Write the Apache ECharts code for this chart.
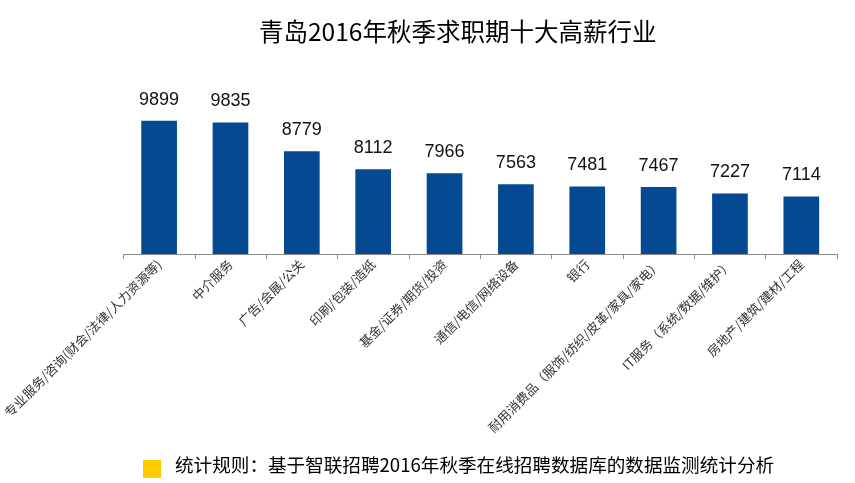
<!DOCTYPE html>
<html>
<head>
<meta charset="utf-8">
<script src="https://cdn.jsdelivr.net/npm/echarts@6/dist/echarts.min.js"></script>
<style>html,body{margin:0;padding:0;background:#fff;}#c{width:855px;height:483px;}</style>
</head>
<body>
<div id="c"></div>
<script>
var titleText = '青岛2016年秋季求职期十大高薪行业';
var categories = [
  '专业服务/咨询(财会/法律/人力资源等)',
  '中介服务',
  '广告/会展/公关',
  '印刷/包装/造纸',
  '基金/证券/期货/投资',
  '通信/电信/网络设备',
  '银行',
  '耐用消费品（服饰/纺织/皮革/家具/家电）',
  'IT服务（系统/数据/维护）',
  '房地产/建筑/建材/工程'
];
var salaries = [9899, 9835, 8779, 8112, 7966, 7563, 7481, 7467, 7227, 7114];
var noteText = '统计规则：基于智联招聘2016年秋季在线招聘数据库的数据监测统计分析';

var chart = echarts.init(document.getElementById('c'), null, {renderer: 'canvas'});
chart.setOption({
  backgroundColor: '#ffffff',
  animation: false,
  title: {
    text: titleText,
    left: 254,
    top: 14,
    textStyle: {fontSize: 24.5, fontWeight: 'normal', color: '#000', fontFamily: '"Noto Sans CJK SC", serif'}
  },
  grid: {left: 123, right: 18, top: 118, bottom: 229, containLabel: false},
  xAxis: {
    type: 'category',
    data: categories,
    boundaryGap: true,
    axisLine: {lineStyle: {color: '#8c8c8c', width: 1}},
    axisTick: {show: true, length: 5, lineStyle: {color: '#8c8c8c'}},
    axisLabel: {
      interval: 0, rotate: 45, margin: 8,
      fontSize: 12.8, color: '#333', fontFamily: '"Noto Sans CJK SC", serif'
    }
  },
  yAxis: {
    type: 'value', min: 5000, max: 10000, show: false,
    splitLine: {show: false}
  },
  series: [{
    type: 'bar',
    data: salaries,
    barWidth: '50%',
    itemStyle: {color: '#054993'},
    label: {
      show: true, position: 'top', distance: 12,
      fontSize: 18, color: '#111', fontFamily: '"Liberation Sans", Arial, sans-serif'
    }
  }],
  graphic: [
    {type: 'rect', left: 143, top: 460, shape: {width: 18, height: 18}, style: {fill: '#FFCC00'}},
    {type: 'text', left: 175, top: 456, style: {text: noteText, fontSize: 18.6, fill: '#000', fontFamily: '"Noto Sans CJK SC", sans-serif'}}
  ]
});
</script>
</body>
</html>
